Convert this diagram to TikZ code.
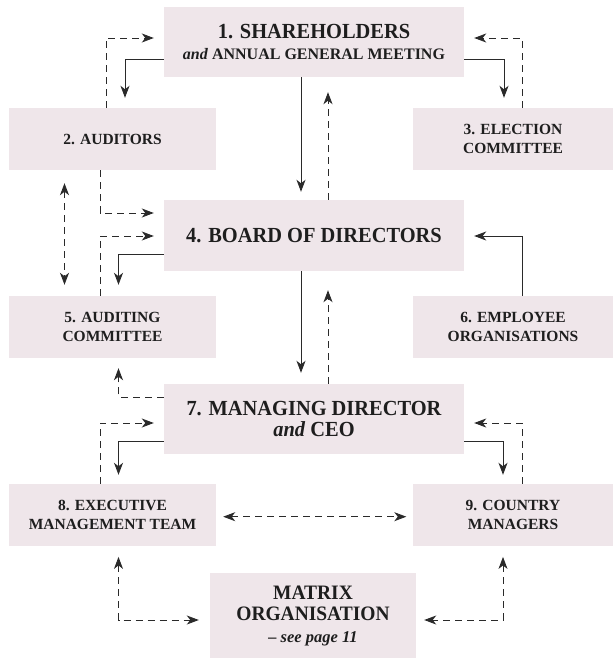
\documentclass[tikz,border=0pt]{standalone}
\usepackage{fontspec}
\setmainfont{Liberation Serif}
\newfontfamily\bigfont{Liberation Serif}[FakeStretch=0.95]
\usetikzlibrary{arrows.meta}
\definecolor{boxfill}{HTML}{EFE6EA}
\definecolor{ink}{HTML}{1E1E1E}
\definecolor{linec}{HTML}{2A2A2A}
\begin{document}
\begin{tikzpicture}[x=1pt,y=-1pt,
  box/.style={fill=boxfill, draw=none, inner sep=0pt, align=center, text=ink},
  bigbox/.style={box, minimum width=300pt, minimum height=70pt, font=\bigfont\fontsize{21.5}{21}\selectfont\bfseries},
  smallbox/.style={box, minimum width=207pt, minimum height=62pt, font=\fontsize{15.5}{18.5}\selectfont\bfseries},
  rightbox/.style={smallbox, minimum width=200pt},
  tip/.tip={Stealth[length=12pt,width=9pt,inset=3.5pt]},
  conn/.style={draw=linec, line width=0.9pt, -tip},
  dconn/.style={conn, dash pattern=on 7pt off 5pt},
  ddconn/.style={dconn, tip-tip}
]
\useasboundingbox (0,0) rectangle (613,658);

\node[bigbox] (b1) at (314,42) {1. SHAREHOLDERS\\{\rmfamily\fontsize{16}{16}\selectfont\textit{and} ANNUAL GENERAL MEETING}};
\node[smallbox] (b2) at (112.5,139) {2. AUDITORS};
\node[rightbox] (b3) at (513,139) {3. ELECTION\\COMMITTEE};
\node[bigbox, minimum height=71pt] (b4) at (314,235.5) {4. BOARD OF DIRECTORS};
\node[smallbox] (b5) at (112.5,327) {5. AUDITING\\COMMITTEE};
\node[rightbox] (b6) at (513,327) {6. EMPLOYEE\\ORGANISATIONS};
\node[bigbox] (b7) at (314,419) {7. MANAGING DIRECTOR\\\textit{and} CEO};
\node[smallbox] (b8) at (112.5,515) {8. EXECUTIVE\\MANAGEMENT TEAM};
\node[rightbox] (b9) at (513,515) {9. COUNTRY\\MANAGERS};
\node[box, minimum width=206pt, minimum height=85pt, font=\bigfont\fontsize{20.5}{21.5}\selectfont\bfseries] (mx) at (313,615.5) {MATRIX\\ORGANISATION\\{\rmfamily\fontsize{16.5}{16.5}\selectfont\textit{– see page 11}}};

% shareholders level
\draw[conn, shorten >=10pt] ([yshift=-17pt]b1.west) -| ([xshift=12.5pt]b2.north);
\draw[dconn, shorten >=10pt] ([xshift=-6.5pt]b2.north) |- ([yshift=4pt]b1.west);
\draw[conn, shorten >=10pt] ([yshift=-17pt]b1.east) -| ([xshift=-9pt]b3.north);
\draw[dconn, shorten >=10pt] ([xshift=9pt]b3.north) |- ([yshift=4pt]b1.east);
\draw[conn, shorten >=8pt] ([xshift=-13pt]b1.south) -- ([xshift=-13pt]b4.north);
\draw[dconn, shorten >=15pt] ([xshift=14pt]b4.north) -- ([xshift=14pt]b1.south);

% board level
\draw[dconn, shorten >=10pt] ([xshift=-12.5pt]b2.south) |- ([yshift=22.5pt]b4.west);
\draw[dconn, shorten >=10pt] ([xshift=-12.5pt]b5.north) |- ([yshift=-0.5pt]b4.west);
\draw[conn, shorten >=11pt] ([yshift=-19pt]b4.west) -| ([xshift=6pt]b5.north);
\draw[ddconn, shorten <=13pt, shorten >=11pt] ([xshift=-48pt]b2.south) -- ([xshift=-48pt]b5.north);
\draw[conn, shorten >=10pt] ([xshift=9pt]b6.north) |- ([yshift=-0.5pt]b4.east);
\draw[conn, shorten >=11pt] ([xshift=-13pt]b4.south) -- ([xshift=-13pt]b7.north);
\draw[dconn, shorten >=19pt] ([xshift=14pt]b7.north) -- ([xshift=14pt]b4.south);

% managing director level
\draw[dconn, shorten >=10pt] ([yshift=22pt]b7.west) -| ([xshift=6pt]b5.south);
\draw[dconn, shorten >=10pt] ([xshift=-12.5pt]b8.north) |- ([yshift=-4pt]b7.west);
\draw[conn, shorten >=9pt] ([yshift=-22.7pt]b7.west) -| ([xshift=6pt]b8.north);
\draw[conn, shorten >=9pt] ([yshift=-22.7pt]b7.east) -| ([xshift=-10pt]b9.north);
\draw[dconn, shorten >=10pt] ([xshift=9pt]b9.north) |- ([yshift=-4pt]b7.east);
\draw[ddconn, shorten <=7pt, shorten >=6.5pt] ([yshift=-1.7pt]b8.east) -- ([yshift=-1.7pt]b9.west);

% matrix
\draw[ddconn, shorten <=10.7pt, shorten >=11pt] ([xshift=6pt]b8.south) |- ([yshift=-4.5pt]mx.west);
\draw[ddconn, shorten <=10.7pt, shorten >=8pt] ([xshift=-10pt]b9.south) |- ([yshift=-4.5pt]mx.east);
\end{tikzpicture}
\end{document}
